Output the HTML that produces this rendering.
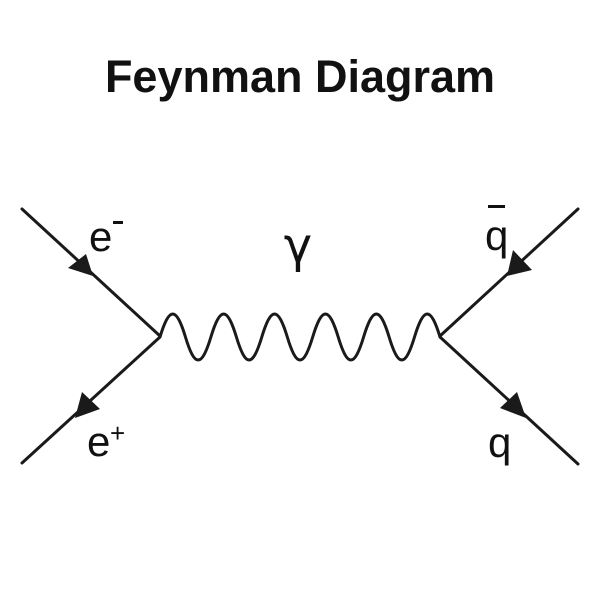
<!DOCTYPE html>
<html><head><style>
html,body{margin:0;padding:0;background:#fff;}
svg{display:block}
</style></head><body>
<svg width="600" height="600" viewBox="0 0 600 600" xmlns="http://www.w3.org/2000/svg">
<rect width="600" height="600" fill="#fff"/>
<text x="300" y="92" text-anchor="middle" font-family="Liberation Sans, sans-serif" font-weight="bold" font-size="45" fill="#111">Feynman Diagram</text>
<g stroke="#1a1a1a" stroke-width="3" fill="none" stroke-linecap="round">
<line x1="22" y1="209" x2="160" y2="336"/>
<line x1="160" y1="337" x2="22" y2="463"/>
<line x1="578" y1="209" x2="440" y2="336"/>
<line x1="440" y1="337" x2="578" y2="464"/>
<path d="M160 337 C169.3 306.3 176.2 306.3 185.45 337 S201.6 367.7 210.9 337 S227.1 306.3 236.4 337 S252.5 367.7 261.8 337 S278 306.3 287.3 337 S303.4 367.7 312.7 337 S328.9 306.3 338.2 337 S354.3 367.7 363.6 337 S379.8 306.3 389.1 337 S405.2 367.7 414.5 337 S430.7 306.3 440 337"/>
</g>
<g fill="#1a1a1a">
<polygon points="68,268 86,254 93,276"/>
<polygon points="75,418 82,392 100,409"/>
<polygon points="507,276 513,250 532,270"/>
<polygon points="500,408 517,392 526,418"/>
</g>
<g font-family="Liberation Sans, sans-serif" fill="#111">
<text x="89" y="251" font-size="42">e</text>
<rect x="113" y="221" width="10" height="3"/>
<text x="87" y="456" font-size="42">e</text>
<text x="110" y="442" font-size="26">+</text>
<text x="485" y="250" font-size="42">q</text>
<rect x="488" y="205" width="17" height="3"/>
<text x="488" y="457" font-size="42">q</text>
</g>
<text x="298" y="262" text-anchor="middle" font-family="DejaVu Sans, sans-serif" font-size="48" fill="#111">γ</text>
</svg>
</body></html>
